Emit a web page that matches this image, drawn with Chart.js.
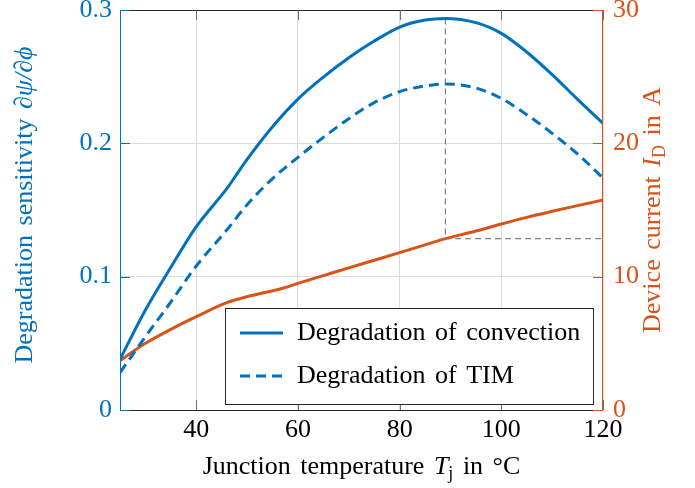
<!DOCTYPE html>
<html>
<head>
<meta charset="utf-8">
<script src="https://cdn.jsdelivr.net/npm/chart.js@4"></script>
<style>
  html, body { margin: 0; padding: 0; background: #fff; }
  #chart { display: block; }
</style>
</head>
<body>
<canvas id="chart" width="695" height="488"></canvas>
<script>
// ── Data ──────────────────────────────────────────────────────────────────
const temps = [25, 30, 35, 40, 46, 50, 55, 60, 65, 70, 75, 80, 85, 89, 95, 100, 105, 110, 115, 120];
const convection = [0.038, 0.075, 0.107, 0.1375, 0.166, 0.188, 0.2125, 0.2332, 0.2497, 0.2642, 0.2767, 0.2872, 0.2925, 0.2937, 0.2905, 0.2825, 0.2685, 0.2515, 0.233, 0.215];
const tim = [0.028, 0.055, 0.081, 0.108, 0.135, 0.154, 0.1735, 0.1895, 0.2045, 0.2185, 0.2305, 0.2388, 0.243, 0.2445, 0.2415, 0.2337, 0.2215, 0.2075, 0.192, 0.174];

const currentTemps = [25, 30, 35, 40, 46, 50, 57, 60, 65, 70, 75, 80, 85, 89, 95, 100, 105, 110, 115, 120];
const current = [3.7, 5.0, 6.05, 7.0, 8.05, 8.5, 9.13, 9.5, 10.08, 10.66, 11.23, 11.8, 12.38, 12.85, 13.42, 13.95, 14.45, 14.9, 15.33, 15.75];

const xTicks = [40, 60, 80, 100, 120];
const leftTicks = [0, 0.1, 0.2, 0.3];
const rightTicks = [0, 10, 20, 30];

const peakT = 89;
const peakSens = 0.2937;
const peakCurrent = 12.85;

const legendLabels = ["Degradation of convection", "Degradation of TIM"];

// ── Styling ───────────────────────────────────────────────────────────────
const BLUE = "#0072BD";
const ORANGE = "#D95319";
const GRID = "#dcdcdc";
const FONT = "Liberation Serif, Times New Roman, serif";
const FS = 26;
const DASH = [10, 6];

const toPoints = (xs, ys) => xs.map((t, i) => ({ x: t, y: ys[i] }));

function drawRich(ctx, parts, cx, cy, angle, color) {
  ctx.save();
  ctx.translate(cx, cy);
  ctx.rotate(angle);
  ctx.fillStyle = color;
  ctx.textBaseline = "middle";
  ctx.textAlign = "left";
  ctx.wordSpacing = "3px";
  const fontFor = (p) => {
    const size = p.sub ? Math.round(FS * 0.7) : FS;
    return (p.italic ? "italic " : "") + size + "px " + FONT;
  };
  let total = 0;
  parts.forEach((p) => {
    ctx.font = fontFor(p);
    p.w = ctx.measureText(p.text).width;
    total += p.w;
  });
  let x = -total / 2;
  parts.forEach((p) => {
    ctx.font = fontFor(p);
    ctx.fillText(p.text, x, p.sub ? FS * 0.28 : 0);
    x += p.w;
  });
  ctx.restore();
}

// reference lines at the sensitivity peak
const refLinesPlugin = {
  id: "refLines",
  beforeDatasetsDraw(chart) {
    const { ctx, scales } = chart;
    const px = scales.x.getPixelForValue(peakT);
    const yTop = scales.y.getPixelForValue(peakSens);
    const yCur = scales.y2.getPixelForValue(peakCurrent);
    ctx.save();
    ctx.strokeStyle = "#808080";
    ctx.lineWidth = 1.2;
    ctx.setLineDash([6, 4]);
    ctx.beginPath();
    ctx.moveTo(px, yTop);
    ctx.lineTo(px, yCur);
    ctx.lineTo(scales.x.right, yCur);
    ctx.stroke();
    ctx.restore();
  },
};

// frame, inward ticks, legend and axis titles
const decorPlugin = {
  id: "decor",
  afterDatasetsDraw(chart) {
    const { ctx, chartArea: a, scales } = chart;
    ctx.save();
    ctx.lineWidth = 1;

    // top and bottom frame
    ctx.strokeStyle = "#262626";
    ctx.beginPath();
    ctx.moveTo(a.left, a.top + 0.5);
    ctx.lineTo(a.right, a.top + 0.5);
    ctx.moveTo(a.left, a.bottom + 0.5);
    ctx.lineTo(a.right, a.bottom + 0.5);
    ctx.stroke();

    // inward x ticks (top and bottom)
    ctx.strokeStyle = "#6e6e6e";
    ctx.beginPath();
    xTicks.forEach((v) => {
      const x = Math.round(scales.x.getPixelForValue(v)) + 0.5;
      ctx.moveTo(x, a.top);
      ctx.lineTo(x, a.top + 10);
      ctx.moveTo(x, a.bottom);
      ctx.lineTo(x, a.bottom - 10);
    });
    ctx.stroke();

    // left / right axis lines and inward ticks
    ctx.strokeStyle = BLUE;
    ctx.beginPath();
    ctx.moveTo(a.left + 0.5, a.top);
    ctx.lineTo(a.left + 0.5, a.bottom);
    leftTicks.forEach((v) => {
      const y = Math.round(scales.y.getPixelForValue(v)) + 0.5;
      ctx.moveTo(a.left, y);
      ctx.lineTo(a.left + 10, y);
    });
    ctx.stroke();

    ctx.strokeStyle = ORANGE;
    ctx.beginPath();
    ctx.moveTo(a.right - 0.5, a.top);
    ctx.lineTo(a.right - 0.5, a.bottom);
    rightTicks.forEach((v) => {
      const y = Math.round(scales.y2.getPixelForValue(v)) + 0.5;
      ctx.moveTo(a.right, y);
      ctx.lineTo(a.right - 10, y);
    });
    ctx.stroke();

    // legend box
    const bw = 368, bh = 96;
    const bx = a.right - 10 - bw;
    const by = a.bottom - 6 - bh;
    ctx.fillStyle = "#fff";
    ctx.fillRect(bx, by, bw, bh);
    ctx.strokeStyle = "#262626";
    ctx.strokeRect(bx + 0.5, by + 0.5, bw, bh);

    const rows = [by + 25, by + 68];
    ctx.lineWidth = 3;
    ctx.strokeStyle = BLUE;
    rows.forEach((ry, i) => {
      ctx.setLineDash(i === 1 ? DASH : []);
      ctx.beginPath();
      ctx.moveTo(bx + 15, ry);
      ctx.lineTo(bx + 58, ry);
      ctx.stroke();
    });
    ctx.setLineDash([]);
    ctx.fillStyle = "#000";
    ctx.font = FS + "px " + FONT;
    ctx.wordSpacing = "3px";
    ctx.textBaseline = "middle";
    ctx.textAlign = "left";
    rows.forEach((ry, i) => ctx.fillText(legendLabels[i], bx + 72, ry));
    ctx.restore();

    // axis titles
    drawRich(ctx, [
      { text: "Degradation sensitivity " },
      { text: "\u2202\u03C8/\u2202\u03D5", italic: true },
    ], 25, (a.top + a.bottom) / 2 - 5, -Math.PI / 2, BLUE);

    drawRich(ctx, [
      { text: "Device current " },
      { text: "I", italic: true },
      { text: "D", sub: true },
      { text: " in A" },
    ], 653, (a.top + a.bottom) / 2, -Math.PI / 2, ORANGE);

    drawRich(ctx, [
      { text: "Junction temperature " },
      { text: "T", italic: true },
      { text: "j", sub: true },
      { text: " in \u00B0C" },
    ], (a.left + a.right) / 2, 467, 0, "#000");
  },
};

const noPad = (s) => {
  s.paddingTop = 0;
  s.paddingBottom = 0;
  s.paddingLeft = 0;
  s.paddingRight = 0;
};

new Chart(document.getElementById("chart"), {
  type: "line",
  data: {
    datasets: [
      {
        label: legendLabels[0],
        data: toPoints(temps, convection),
        yAxisID: "y",
        borderColor: BLUE,
        borderWidth: 3,
        pointRadius: 0,
        cubicInterpolationMode: "monotone",
      },
      {
        label: legendLabels[1],
        data: toPoints(temps, tim),
        yAxisID: "y",
        borderColor: BLUE,
        borderWidth: 3,
        borderDash: DASH,
        pointRadius: 0,
        cubicInterpolationMode: "monotone",
      },
      {
        label: "Device current",
        data: toPoints(currentTemps, current),
        yAxisID: "y2",
        borderColor: ORANGE,
        borderWidth: 3,
        pointRadius: 0,
        cubicInterpolationMode: "monotone",
      },
    ],
  },
  options: {
    responsive: false,
    animation: false,
    devicePixelRatio: 1,
    layout: { padding: { top: 10, left: 0, right: 0, bottom: 0 } },
    plugins: {
      legend: { display: false },
      tooltip: { enabled: false },
    },
    scales: {
      x: {
        type: "linear",
        min: 25,
        max: 120,
        afterBuildTicks: (s) => { s.ticks = xTicks.map((v) => ({ value: v })); },
        afterFit: (s) => { s.height = 78; noPad(s); },
        grid: { color: GRID, drawTicks: false },
        border: { display: false },
        ticks: {
          color: "#000",
          font: { family: FONT, size: FS },
          padding: 5,
          maxRotation: 0,
          autoSkip: false,
        },
      },
      y: {
        position: "left",
        min: 0,
        max: 0.3,
        afterBuildTicks: (s) => { s.ticks = leftTicks.map((v) => ({ value: v })); },
        afterFit: (s) => { s.width = 120; noPad(s); },
        grid: { color: GRID, drawTicks: false },
        border: { display: false },
        ticks: {
          color: BLUE,
          font: { family: FONT, size: FS },
          padding: 8,
          callback: (v) => (v === 0 ? "0" : v.toFixed(1)),
        },
      },
      y2: {
        position: "right",
        min: 0,
        max: 30,
        afterBuildTicks: (s) => { s.ticks = rightTicks.map((v) => ({ value: v })); },
        afterFit: (s) => { s.width = 92; noPad(s); },
        grid: { drawOnChartArea: false, drawTicks: false },
        border: { display: false },
        ticks: {
          color: ORANGE,
          font: { family: FONT, size: FS },
          padding: 10,
          callback: (v) => String(v),
        },
      },
    },
  },
  plugins: [refLinesPlugin, decorPlugin],
});
</script>
</body>
</html>
